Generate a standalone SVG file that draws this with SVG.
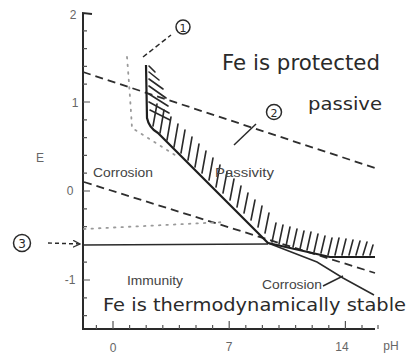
<svg xmlns="http://www.w3.org/2000/svg" width="407" height="361" viewBox="0 0 407 361">
<style>
.ax{stroke:#2a2a2a;stroke-width:2;fill:none}
.tk{stroke:#555;stroke-width:1.2;fill:none}
.bd{stroke:#1e1e1e;stroke-width:2.2;fill:none;stroke-linejoin:round}
.thin{stroke:#2a2a2a;stroke-width:1.5;fill:none}
.dash{stroke:#2e2e2e;stroke-width:1.8;fill:none;stroke-dasharray:8 5}
.dot{stroke:#9a9a9a;stroke-width:1.8;fill:none;stroke-dasharray:1.5 6;stroke-linecap:round}
.hat{stroke:#2a2a2a;stroke-width:1.6;stroke-linecap:round}
.num{font-family:"Liberation Sans",Arial,sans-serif;font-size:12px;fill:#666}
.lab{font-family:"Liberation Sans",Arial,sans-serif;font-size:12px;fill:#444}
.hand{font-family:"DejaVu Sans","Liberation Sans",sans-serif;fill:#2a2a2a}
.circ{fill:none;stroke:#2a2a2a;stroke-width:1.5}
</style>
<defs>
<marker id="ah" markerWidth="8" markerHeight="8" refX="7" refY="4" orient="auto" markerUnits="userSpaceOnUse">
<path d="M0,0.5 L7,4 L0,7.5" fill="none" stroke="#333" stroke-width="1.3"/>
</marker>
</defs>
<rect width="407" height="361" fill="#fff"/>

<g id="axes">
<path class="ax" d="M92,14 L83,13 L83,329 L375,329"/>
<path class="tk" d="M83,30.8h4M83,48.6h4M83,66.4h4M83,84.2h4M83,102h7M83,119.8h4M83,137.6h4M83,155.4h4M83,173.2h4M83,191h7M83,208.8h4M83,226.6h4M83,262.2h4M83,280h7M83,297.8h4M83,315.6h4"/>
<path class="tk" d="M96.4,329v-4M113,329v-8M129.6,329v-4M146.2,329v-4M162.8,329v-4M179.4,329v-4M196,329v-4M212.6,329v-4M229.2,329v-8M245.8,329v-4M262.4,329v-4M279,329v-4M295.6,329v-4M312.2,329v-4M328.8,329v-4M345.4,329v-8M362,329v-4M378,329v-4"/>
<text class="num" x="73" y="19" text-anchor="middle">2</text>
<text class="num" x="75" y="107" text-anchor="middle">1</text>
<text class="num" x="70" y="195" text-anchor="middle">0</text>
<text class="num" x="70" y="284" text-anchor="middle" font-size="10">-1</text>
<text class="num" x="113" y="352" text-anchor="middle">0</text>
<text class="num" x="229" y="351" text-anchor="middle">7</text>
<text class="num" x="342" y="351" text-anchor="middle">14</text>
<text class="num" x="391" y="350" text-anchor="middle">pH</text>
<text class="num" x="40" y="162" text-anchor="middle" font-size="13">E</text>
</g>

<g id="connectors">
<path class="dash" d="M83,72 L375,168"/>
<path class="dash" d="M84,182 L375,273"/>
<path class="dot" d="M84,229 L225,222"/>
<path class="dot" d="M127,57 Q130,95 132,128 L178,157"/>
<path class="thin" d="M83,245 L268,244"/>
<path class="thin" d="M268,243 L317,262 L343,278 L374,295"/>
<path class="bd" d="M146,65 L147,118 Q149,128 158,133 L268,243 L330,257 L375,257"/>
<path class="thin" d="M143,57 L171,35" stroke-dasharray="5 3"/>
<path class="thin" d="M234,145 L256,124"/>
<path class="thin" d="M323,286 L343,276"/>
<path class="thin" d="M48,243 L80,244" stroke-dasharray="4 3" marker-end="url(#ah)"/>
</g>

<g id="hatching" class="hat">
<path class="hat" d="M149,66L155,72M149,72L159,80M149,79L163,89M149,86L166,98M149,94L168,106M149,102L169,113M150,110L170,120"/>
<path class="hat" d="M153,126L157,104M160,133L164,110M167,140L171,117M174,147L178,124M181,153L185,130M188,160L192,137M195,167L199,144M202,173L206,151M209,180L213,158M216,187L220,165M223,193L227,172M230,200L234,179M237,207L241,186M244,213L248,193M251,220L255,200M258,227L262,206M265,233L269,213M272,242L276,223M279,244L283,225M286,246L290,227M293,247L297,229M300,249L304,231M307,250L311,232M314,252L318,234M321,253L325,236M328,255L332,238M335,255L339,238M342,255L346,239M349,255L353,240M356,255L360,241M363,255L367,242M370,255L373,245"/>
</g>

<g id="label-1"><circle class="circ" cx="183" cy="27" r="7"/><text class="hand" x="183" y="31.5" font-size="11" text-anchor="middle">1</text></g>
<g id="label-2"><circle class="circ" cx="274" cy="112" r="7.5"/><text class="hand" x="274" y="116.5" font-size="11" text-anchor="middle">2</text></g>
<g id="label-3"><circle class="circ" cx="22" cy="243" r="8.5"/><text class="hand" x="22" y="247.5" font-size="12" text-anchor="middle">3</text></g>

<g id="text-protected"><text class="hand" x="222" y="70" font-size="21" textLength="158" lengthAdjust="spacingAndGlyphs">Fe is protected</text></g>
<g id="text-passive"><text class="hand" x="308" y="110" font-size="17" textLength="74" lengthAdjust="spacingAndGlyphs">passive</text></g>
<g id="text-stable"><text class="hand" x="103" y="311" font-size="18" textLength="303" lengthAdjust="spacingAndGlyphs">Fe is thermodynamically stable</text></g>
<g id="region-corrosion-left"><text class="lab" x="93" y="177" textLength="60" lengthAdjust="spacingAndGlyphs">Corrosion</text></g>
<g id="region-passivity"><text class="lab" x="215" y="177" textLength="59" lengthAdjust="spacingAndGlyphs">Passivity</text></g>
<g id="region-immunity"><text class="lab" x="127" y="285" textLength="56" lengthAdjust="spacingAndGlyphs">Immunity</text></g>
<g id="region-corrosion-right"><text class="lab" x="262" y="289" textLength="60" lengthAdjust="spacingAndGlyphs">Corrosion</text></g>
</svg>
